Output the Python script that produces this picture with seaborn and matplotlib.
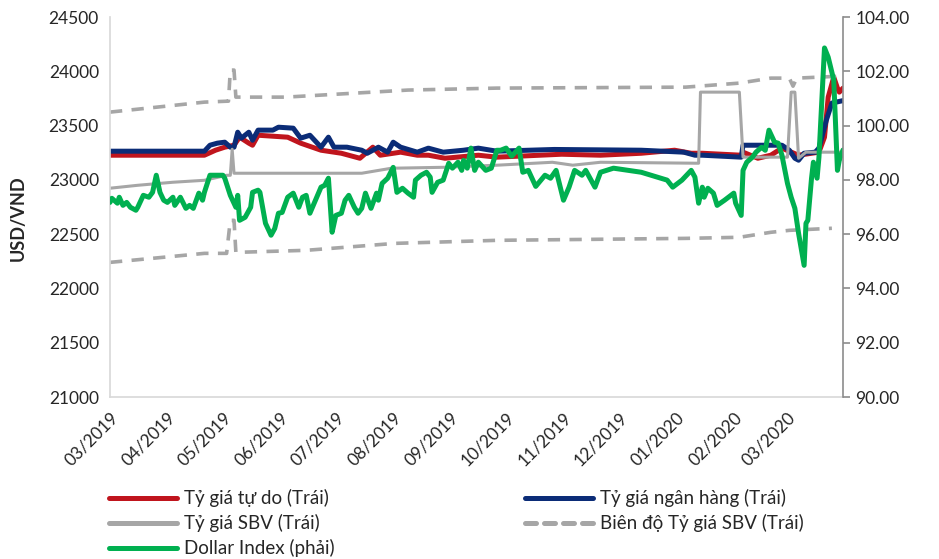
import matplotlib
matplotlib.use("Agg")
import matplotlib.pyplot as plt
import matplotlib.dates as mdates
from matplotlib.lines import Line2D
from matplotlib.ticker import FormatStrFormatter, MultipleLocator
import pandas as pd
import seaborn as sns

START = pd.Timestamp("2019-03-01")
END = pd.Timestamp("2020-03-31")

# Tỷ giá tự do (VND per USD), keyed by days since 01/03/2019
free_days = [0, 51, 57, 62, 67, 70, 75, 77, 80, 96, 103, 114, 125, 135, 142, 146, 157,
             166, 172, 181, 199, 209, 244, 265, 287, 305, 314, 320, 341, 342, 350, 357,
             363, 372, 383, 386, 388, 391, 393, 394, 396]
free_vals = [23227, 23227, 23273, 23301, 23319, 23393, 23338, 23319, 23411, 23393, 23338,
             23273, 23245, 23199, 23301, 23227, 23255, 23227, 23227, 23199, 23227, 23209,
             23236, 23227, 23245, 23273, 23245, 23245, 23227, 23255, 23199, 23227, 23292,
             23227, 23255, 23393, 23762, 23946, 23845, 23808, 23845]

# Tỷ giá ngân hàng
bank_days = [0, 51, 54, 58, 62, 65, 67, 69, 71, 75, 77, 80, 88, 91, 99, 103, 108, 114, 118,
             121, 128, 136, 139, 145, 150, 153, 157, 166, 172, 180, 191, 199, 209, 240, 287,
             310, 316, 320, 341, 342, 363, 367, 370, 372, 375, 381, 383, 387, 390, 396]
bank_vals = [23264, 23264, 23319, 23338, 23347, 23301, 23301, 23439, 23384, 23439, 23365,
             23458, 23458, 23485, 23476, 23384, 23411, 23301, 23393, 23301, 23301, 23273,
             23245, 23301, 23255, 23347, 23301, 23255, 23292, 23255, 23273, 23292, 23264,
             23280, 23273, 23255, 23227, 23227, 23209, 23319, 23319, 23273, 23199, 23181,
             23245, 23255, 23292, 23550, 23707, 23730]

# Tỷ giá SBV (tỷ giá trung tâm)
sbv_days = [0, 15, 34, 51, 63, 65, 66, 67, 70, 103, 136, 152, 181, 209, 239, 250, 265, 318,
            319, 340, 342, 366, 368, 370, 372, 376, 396]
sbv_vals = [22923, 22950, 22978, 22996, 23042, 23042, 23282, 23061, 23061, 23061, 23061,
            23107, 23116, 23135, 23162, 23135, 23162, 23153, 23808, 23808, 23209, 23209,
            23808, 23808, 23199, 23255, 23255]

# Biên độ tỷ giá SBV: cận trên và cận dưới
upper_days = [0, 51, 64, 65, 67, 68, 95, 161, 209, 311, 340, 357, 367, 369, 371, 396]
upper_vals = [23624, 23716, 23725, 24011, 24011, 23762, 23762, 23827, 23845, 23854, 23891,
              23937, 23937, 23863, 23937, 23956]
lower_days = [0, 51, 63, 65, 67, 68, 106, 154, 209, 311, 340, 357, 367, 390]
lower_vals = [22240, 22323, 22323, 22627, 22627, 22332, 22351, 22415, 22443, 22461, 22471,
              22517, 22535, 22554]

# Dollar Index (trục phải)
dxy_days = [0, 1, 4, 5, 7, 9, 11, 14, 15, 18, 21, 23, 25, 27, 29, 31, 34, 35, 38, 41, 43, 45,
            48, 50, 51, 54, 57, 61, 62, 65, 68, 69, 70, 73, 76, 77, 80, 81, 84, 87, 89, 91,
            93, 96, 99, 102, 104, 106, 108, 111, 114, 116, 118, 120, 122, 125, 127, 129,
            132, 134, 136, 138, 141, 144, 145, 147, 150, 153, 155, 158, 161, 164, 165, 168,
            171, 173, 174, 177, 180, 183, 185, 188, 190, 191, 193, 195, 197, 199, 203, 206,
            209, 211, 214, 217, 221, 223, 226, 230, 235, 238, 241, 245, 248, 251, 255, 257,
            262, 265, 272, 287, 301, 304, 309, 314, 316, 318, 320, 321, 323, 326, 328, 332,
            337, 338, 341, 342, 344, 347, 349, 352, 354, 356, 359, 361, 363, 366, 368, 370,
            372, 375, 376, 377, 379, 380, 382, 383, 386, 388, 391, 393, 394, 396]
dxy_vals = [97.17, 97.32, 97.14, 97.36, 97.06, 97.17, 96.99, 96.88, 96.99, 97.43, 97.36,
            97.54, 98.17, 97.54, 97.25, 97.17, 97.36, 97.06, 97.36, 96.95, 97.06, 96.95,
            97.51, 97.25, 97.54, 98.17, 98.17, 98.17, 98.06, 97.43, 96.99, 97.43, 96.51,
            96.62, 96.99, 97.54, 97.62, 97.54, 96.40, 95.96, 96.21, 96.77, 96.80, 97.36,
            97.51, 96.99, 97.36, 97.43, 96.77, 97.25, 97.73, 97.80, 98.06, 96.07, 96.69,
            96.77, 97.25, 97.43, 96.99, 96.77, 96.95, 97.51, 96.95, 97.51, 97.25, 97.87,
            98.06, 98.46, 97.54, 97.69, 97.51, 97.36, 97.99, 98.17, 98.28, 98.10, 97.54,
            97.91, 97.99, 98.61, 98.43, 98.65, 98.35, 98.72, 98.43, 99.17, 98.35, 98.65,
            98.35, 98.43, 99.09, 99.09, 99.17, 98.87, 99.17, 98.28, 98.35, 97.76, 98.17,
            98.06, 98.35, 97.25, 97.73, 98.35, 98.17, 98.35, 97.73, 98.28, 98.43, 98.28,
            97.99, 97.73, 97.99, 98.35, 98.10, 97.14, 97.73, 97.36, 97.69, 97.51, 97.06,
            97.25, 97.51, 97.14, 96.69, 98.35, 98.65, 98.83, 99.02, 99.20, 99.09, 99.83,
            99.39, 99.35, 98.91, 97.87, 97.36, 96.95, 96.03, 94.85, 96.40, 96.51, 98.06,
            98.65, 98.06, 98.83, 102.86, 102.52, 101.68, 98.35, 98.72, 99.10]

LABELS = ["Tỷ giá tự do (Trái)", "Tỷ giá ngân hàng (Trái)", "Tỷ giá SBV (Trái)",
          "Biên độ Tỷ giá SBV (Trái)", "Dollar Index (phải)"]

RED = "#C0151D"
NAVY = "#0B2C77"
GREY = "#A6A6A6"
GREEN = "#00B050"


def frame(days, vals):
    return pd.DataFrame({"date": START + pd.to_timedelta(days, unit="D"), "value": vals})


sns.set_theme(style="white")
plt.rcParams["font.family"] = ["Lato", "Noto Sans", "DejaVu Sans"]
plt.rcParams["font.size"] = 12.5

fig = plt.figure(figsize=(9.39, 5.59), dpi=100)
ax = fig.add_axes([110 / 939, 1 - 397 / 559, (843 - 110) / 939, (397 - 17) / 559])

sns.lineplot(data=frame(free_days, free_vals), x="date", y="value", ax=ax,
             color=RED, linewidth=3.6, legend=False)
sns.lineplot(data=frame(bank_days, bank_vals), x="date", y="value", ax=ax,
             color=NAVY, linewidth=3.6, legend=False)
sns.lineplot(data=frame(sbv_days, sbv_vals), x="date", y="value", ax=ax,
             color=GREY, linewidth=2.2, legend=False)
band_style = (0, (3.4, 2.6))
for d, v in ((upper_days, upper_vals), (lower_days, lower_vals)):
    sns.lineplot(data=frame(d, v), x="date", y="value", ax=ax,
                 color=GREY, linewidth=2.6, legend=False)
    ax.get_lines()[-1].set_linestyle(band_style)

ax2 = ax.twinx()
sns.lineplot(data=frame(dxy_days, dxy_vals), x="date", y="value", ax=ax2,
             color=GREEN, linewidth=3.6, legend=False)

# Left axis
ax.set_xlim(START, END)
ax.set_ylim(21000, 24500)
ax.yaxis.set_major_locator(MultipleLocator(500))
ax.set_ylabel("USD/VND", fontweight="bold", fontsize=13)
ax.yaxis.set_label_coords(-0.114, 0.47)
ax.set_xlabel("")
ax.tick_params(axis="y", length=0, pad=8, labelsize=12.5)

# Month ticks
ax.xaxis.set_major_locator(mdates.MonthLocator(bymonthday=1))
ax.xaxis.set_major_formatter(mdates.DateFormatter("%m/%Y"))
ax.tick_params(axis="x", direction="out", length=7, color="#D9D9D9", width=1,
               labelsize=12.5, pad=2)
for lab in ax.get_xticklabels():
    lab.set_rotation(45)
    lab.set_ha("right")
    lab.set_rotation_mode("anchor")

# Right axis
ax2.set_ylim(90, 104)
ax2.yaxis.set_major_locator(MultipleLocator(2))
ax2.yaxis.set_major_formatter(FormatStrFormatter("%.2f"))
ax2.set_ylabel("")
ax2.tick_params(axis="y", direction="out", length=5, color="#8C8C8C", width=1.2,
                labelsize=12.5, pad=4)

for a in (ax, ax2):
    a.grid(False)
    for s in a.spines.values():
        s.set_visible(False)
ax.spines["left"].set_visible(True)
ax.spines["left"].set_color("#D9D9D9")
ax.spines["bottom"].set_visible(True)
ax.spines["bottom"].set_color("#D9D9D9")
ax2.spines["right"].set_visible(True)
ax2.spines["right"].set_color("#8C8C8C")
ax2.spines["right"].set_linewidth(1.2)

# Legend in two blocks beneath the plot
h_free = Line2D([], [], color=RED, lw=3.6, solid_capstyle="round")
h_bank = Line2D([], [], color=NAVY, lw=3.6, solid_capstyle="round")
h_sbv = Line2D([], [], color=GREY, lw=3.6, solid_capstyle="round")
h_band = Line2D([], [], color=GREY, lw=3.6, linestyle=(0, (2.2, 1.6)), dash_capstyle="round")
h_dxy = Line2D([], [], color=GREEN, lw=3.6, solid_capstyle="round")

common = dict(frameon=False, loc="upper left", borderpad=0, borderaxespad=0,
              handlelength=3.6, handletextpad=0.4, labelspacing=0.38, fontsize=13.5)
leg1 = fig.legend([h_free, h_sbv, h_dxy], [LABELS[0], LABELS[2], LABELS[4]],
                  bbox_to_anchor=(109 / 939, 1 - 489 / 559), **common)
leg2 = fig.legend([h_bank, h_band], [LABELS[1], LABELS[3]],
                  bbox_to_anchor=(525 / 939, 1 - 489 / 559), **common)

fig.savefig("out.png", dpi=100)
